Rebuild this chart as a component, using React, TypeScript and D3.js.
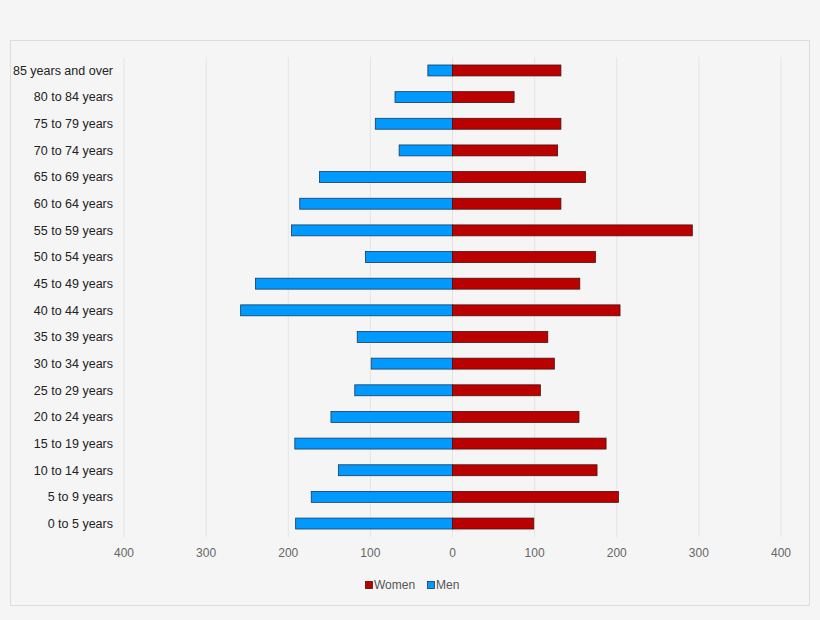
import React from "react";
import * as d3 from "d3";

const categories = [
  "85 years and over", "80 to 84 years", "75 to 79 years", "70 to 74 years",
  "65 to 69 years", "60 to 64 years", "55 to 59 years", "50 to 54 years",
  "45 to 49 years", "40 to 44 years", "35 to 39 years", "30 to 34 years",
  "25 to 29 years", "20 to 24 years", "15 to 19 years", "10 to 14 years",
  "5 to 9 years", "0 to 5 years",
];
const men = [30, 70, 94, 65, 162, 186, 196, 106, 240, 258, 116, 99, 119, 148, 192, 139, 172, 191];
const women = [132, 75, 132, 128, 162, 132, 292, 174, 155, 204, 116, 124, 107, 154, 187, 176, 202, 99];
const ticks = [-400, -300, -200, -100, 0, 100, 200, 300, 400];

const W = 820, H = 620;
const font = "Arial, 'Liberation Sans', sans-serif";

export default function App() {
  const x = d3.scaleLinear().domain([-400, 400]).range([124, 781]);
  const y = d3.scaleBand<string>().domain(categories).range([57, 537]).paddingInner(0.59).paddingOuter(0.3);
  const bw = y.bandwidth();
  return (
    <svg width={W} height={H} style={{ position: "absolute", left: 0, top: 0, background: "#f5f5f5" }}>
      <rect x={0} y={0} width={W} height={H} fill="#f5f5f5" />
      <rect x={10.5} y={40.5} width={799} height={565} fill="#f5f5f5" stroke="#dcdcdc" />
      {ticks.map((t) => (
        <line key={"g" + t} x1={x(t)} x2={x(t)} y1={57} y2={537} stroke="#e4e4e4" strokeWidth={1} />
      ))}
      {ticks.map((t) => (
        <text key={"t" + t} x={x(t)} y={556.5} textAnchor="middle" fontFamily={font} fontSize={12} fill="#666">
          {Math.abs(t)}
        </text>
      ))}
      {categories.map((c, i) => (
        <g key={c}>
          <rect x={x(-men[i])} y={y(c)!} width={x(0) - x(-men[i])} height={bw} fill="#0099ff" stroke="#1a3a5a" strokeWidth={0.8} />
          <rect x={x(0)} y={y(c)!} width={x(women[i]) - x(0)} height={bw} fill="#bb0000" stroke="#4a1010" strokeWidth={0.8} />
          <text x={113} y={y(c)! + bw / 2} dy="0.35em" textAnchor="end" fontFamily={font} fontSize={12.5} fill="#222">
            {c}
          </text>
        </g>
      ))}
      <g fontFamily={font} fontSize={12} fill="#555">
        <rect x={365.5} y={581.5} width={7} height={7} fill="#bb0000" stroke="#4a1010" strokeWidth={0.8} />
        <text x={374} y={589}>Women</text>
        <rect x={427.5} y={581.5} width={7} height={7} fill="#0099ff" stroke="#1a3a5a" strokeWidth={0.8} />
        <text x={436} y={589}>Men</text>
      </g>
    </svg>
  );
}
